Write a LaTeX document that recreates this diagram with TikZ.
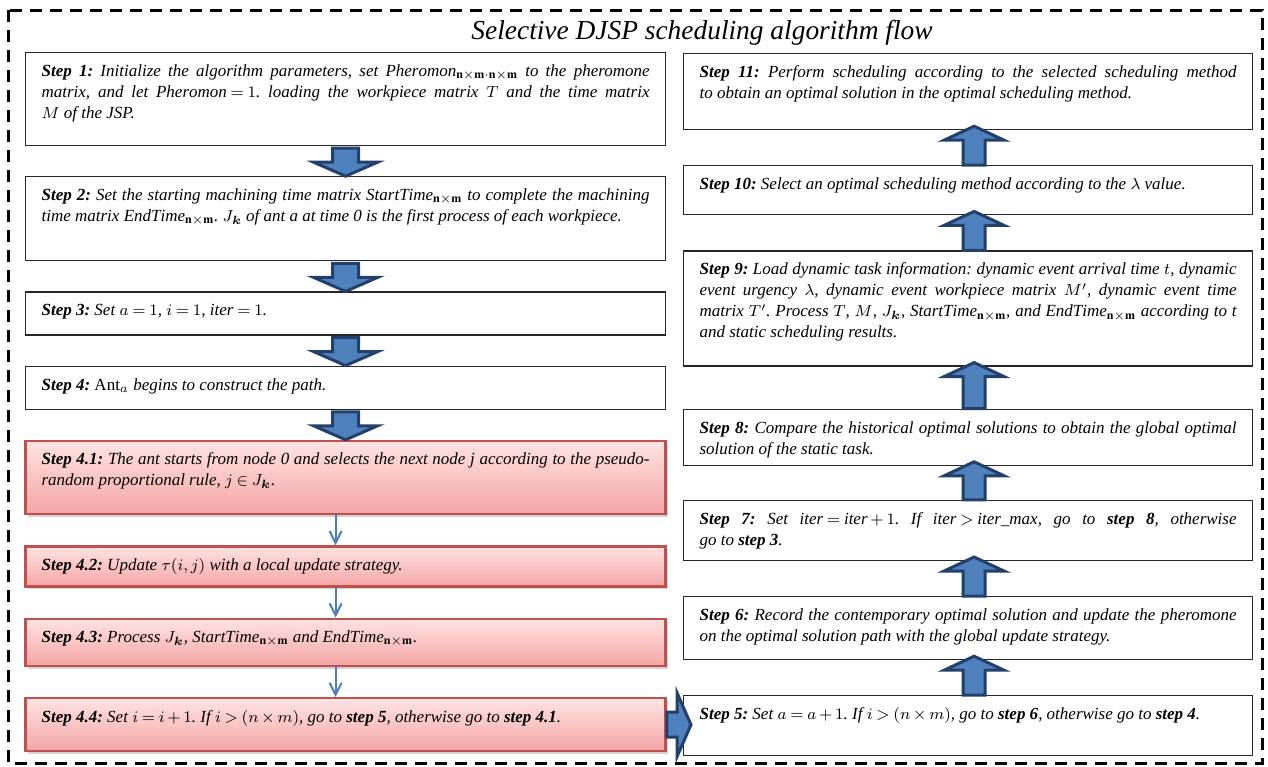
\documentclass[tikz,border=0pt]{standalone}
\usepackage{amsmath}
\usepackage{fontspec}
\setmainfont{Liberation Serif}
\usetikzlibrary{positioning,calc,shadows,arrows.meta}

\definecolor{navyline}{HTML}{22406A}
\definecolor{blockfill}{HTML}{4F81BD}
\definecolor{thinblue}{HTML}{4A7EBB}
\definecolor{redline}{HTML}{C0504D}
\definecolor{redtop}{HTML}{FFE3E3}
\definecolor{redbot}{HTML}{F5A5A5}

\frenchspacing
\hyphenpenalty=10000
\tolerance=9999
\thickmuskip=4mu minus 1mu
\medmuskip=3mu minus 1mu

\tikzset{
  stepbox/.style={draw=black!85, line width=0.6pt, fill=white, inner xsep=8pt, inner ysep=6pt,
    font=\fontsize{8.5}{10.5}\selectfont\itshape},
  leftbox/.style={stepbox, text width=304pt},
  rightbox/.style={stepbox, text width=268.5pt},
  redbox/.style={leftbox, draw=redline, line width=1.2pt, top color=redtop, bottom color=redbot,
    drop shadow={opacity=0.35, shadow xshift=1pt, shadow yshift=-1.5pt}},
  blockarrow/.style={draw=navyline, fill=blockfill, line width=1.5pt, line join=miter},
  thinarrow/.style={draw=thinblue, line width=1pt, -{Straight Barb[length=6pt,width=6pt]}},
  frame/.style={draw, line width=1.5pt, dash pattern=on 6pt off 4pt}
}

% text held at the top of a box of fixed height, justified
\newcommand{\boxtext}[2]{\parbox[c][#1][t]{\linewidth}{\spaceskip=\fontdimen2\font plus 0.3em minus \fontdimen4\font #2}}
% thick vertical block arrow: start, tip, half shaft, half head
\newcommand{\blockarrow}[4]{%
  \filldraw[blockarrow] let \p1=(#1), \p2=(#2), \n1={\y2-sign(\y2-\y1)*7pt} in
    ({\x1-#3},\y1) -- ({\x1-#3},\n1) -- ({\x1-#4},\n1) -- (\x1,\y2)
    -- ({\x1+#4},\n1) -- ({\x1+#3},\n1) -- ({\x1+#3},\y1) -- cycle;}
% thick block arrow to the right
\newcommand{\blockarrowright}[2]{%
  \filldraw[blockarrow] let \p1=(#1), \p2=(#2) in
    (\x1,{\y1-6.25pt}) -- ({\x2-7pt},{\y1-6.25pt}) -- ({\x2-7pt},{\y1-16pt}) -- (\x2,\y1)
    -- ({\x2-7pt},{\y1+16pt}) -- ({\x2-7pt},{\y1+6.25pt}) -- (\x1,{\y1+6.25pt}) -- cycle;}

\begin{document}
\begin{tikzpicture}[x=0.5pt, y=-0.5pt]
  \useasboundingbox (0,0) rectangle (1268,766);
  \draw[frame] (8,10) rectangle (1262,763);
  \node[font=\fontsize{13.7}{16}\selectfont\itshape] (title) at (702,33) {Selective DJSP scheduling algorithm flow};

  % left column
  \node[leftbox, anchor=north west] (s1) at (25,52) {\boxtext{34.5pt}{\textbf{Step 1:} Initialize the algorithm parameters, set $\mathit{Pheromon}_{\mathbf{n\times m\cdot n\times m}}$ to the pheromone matrix, and let $\mathit{Pheromon}=1$. loading the workpiece matrix $T$ and the time matrix\linebreak $M$ of the JSP.}};
  \node[leftbox, below=15pt of s1] (s2) {\boxtext{30pt}{\textbf{Step 2:} Set the starting machining time matrix $\mathit{StartTime}_{\mathbf{n\times m}}$ to complete the machining time matrix $\mathit{EndTime}_{\mathbf{n\times m}}$. $J_{\boldsymbol{k}}$ of ant a at time 0 is the first process of each workpiece.}};
  \node[leftbox, below=15pt of s2] (s3) {\boxtext{9.5pt}{\textbf{Step 3:} Set $a=1$, $i=1$, $\mathit{iter}=1$.}};
  \node[leftbox, below=15pt of s3] (s4) {\boxtext{9.5pt}{\textbf{Step 4:} $\mathrm{Ant}_a$ begins to construct the path.}};
  \node[redbox, below=15pt of s4] (s41) {\boxtext{24.5pt}{\textbf{Step 4.1:} The ant starts from node 0 and selects the next node j according to the pseudo-random proportional rule, $j\in J_{\boldsymbol{k}}$.}};
  \node[redbox, below=15pt of s41] (s42) {\boxtext{8pt}{\textbf{Step 4.2:} Update $\tau(i,j)$ with a local update strategy.}};
  \node[redbox, below=15pt of s42] (s43) {\boxtext{11.5pt}{\textbf{Step 4.3:} Process $J_{\boldsymbol{k}}$, $\mathit{StartTime}_{\mathbf{n\times m}}$ and $\mathit{EndTime}_{\mathbf{n\times m}}$.}};
  \node[redbox, below=15pt of s43] (s44) {\boxtext{14.5pt}{\textbf{Step 4.4:} Set $i=i+1$. If $i>(n\times m)$, go to \textbf{step 5}, otherwise go to \textbf{step 4.1}.}};

  % right column
  \node[rightbox, anchor=north west] (s11) at (683,53) {\boxtext{26pt}{\textbf{Step 11:} Perform scheduling according to the selected scheduling method\linebreak to obtain an optimal solution in the optimal scheduling method.}};
  \node[rightbox, below=17.5pt of s11] (s10) {\boxtext{12.5pt}{\textbf{Step 10:} Select an optimal scheduling method according to the $\lambda$ value.}};
  \node[rightbox, below=17.5pt of s10] (s9) {\boxtext{45.5pt}{\textbf{Step 9:} Load dynamic task information: dynamic event arrival time $t$, dynamic event urgency $\lambda$, dynamic event workpiece matrix $M'$, dynamic event time matrix $T'$. Process $T$, $M$, $J_{\boldsymbol{k}}$, $\mathit{StartTime}_{\mathbf{n\times m}}$, and $\mathit{EndTime}_{\mathbf{n\times m}}$ according to t and static scheduling results.}};
  \node[rightbox, below=21pt of s9] (s8) {\boxtext{16pt}{\textbf{Step 8:} Compare the historical optimal solutions to obtain the global optimal solution of the static task.}};
  \node[rightbox, below=17pt of s8] (s7) {\boxtext{18pt}{\textbf{Step 7:} Set $\mathit{iter}=\mathit{iter}+1$. If $\mathit{iter}>\mathit{iter\_max}$, go to \textbf{step 8}, otherwise\linebreak go to \textbf{step 3}.}};
  \node[rightbox, below=17.5pt of s7] (s6) {\boxtext{19.5pt}{\textbf{Step 6:} Record the contemporary optimal solution and update the pheromone on the optimal solution path with the global update strategy.}};
  \node[rightbox, below=17.5pt of s6] (s5) {\boxtext{18pt}{\textbf{Step 5:} Set $a=a+1$. If $i>(n\times m)$, go to \textbf{step 6}, otherwise go to \textbf{step 4}.}};

  % connectors
  \blockarrow{[yshift=-1pt]s1.south}{s2.north}{6.5pt}{16pt}
  \blockarrow{[yshift=-1pt]s2.south}{s3.north}{6.5pt}{16pt}
  \blockarrow{[yshift=-1pt]s3.south}{s4.north}{6.5pt}{16pt}
  \blockarrow{[yshift=-1pt]s4.south}{s41.north}{6.5pt}{16pt}
  \draw[thinarrow] ([xshift=-5pt]s41.south) -- ([xshift=-5pt]s42.north);
  \draw[thinarrow] ([xshift=-5pt]s42.south) -- ([xshift=-5pt]s43.north);
  \draw[thinarrow] ([xshift=-5pt]s43.south) -- ([xshift=-5pt]s44.north);
  \blockarrowright{s44.east}{[xshift=4pt]s5.west}
  \blockarrow{[xshift=3pt]s5.north}{[yshift=2pt]s6.south}{5.5pt}{15pt}
  \blockarrow{[xshift=3pt]s6.north}{[yshift=2pt]s7.south}{5.5pt}{15pt}
  \blockarrow{[xshift=3pt]s7.north}{[yshift=2pt]s8.south}{5.5pt}{15pt}
  \blockarrow{[xshift=3pt]s8.north}{[yshift=2pt]s9.south}{5.5pt}{15pt}
  \blockarrow{[xshift=3pt]s9.north}{[yshift=2pt]s10.south}{5.5pt}{15pt}
  \blockarrow{[xshift=3pt]s10.north}{[yshift=2pt]s11.south}{5.5pt}{15pt}
\end{tikzpicture}
\end{document}
